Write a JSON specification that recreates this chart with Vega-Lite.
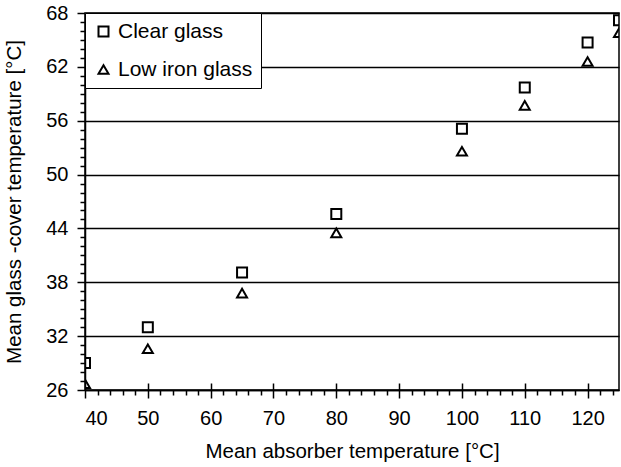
{
  "$schema": "https://vega.github.io/schema/vega-lite/v6.json",
  "width": 534,
  "height": 377,
  "autosize": "none",
  "padding": {"left": 85, "top": 13, "right": 2, "bottom": 77},
  "background": "white",
  "config": {
    "font": "Liberation Sans",
    "view": {"stroke": "black", "strokeWidth": 1.5},
    "axis": {
      "domainColor": "black",
      "domainWidth": 1.5,
      "tickColor": "black",
      "tickWidth": 1.5,
      "labelColor": "black",
      "titleColor": "black",
      "labelFont": "Liberation Sans",
      "titleFont": "Liberation Sans",
      "labelFontSize": 20,
      "titleFontSize": 20.5,
      "titleFontWeight": "normal",
      "gridColor": "black",
      "gridOpacity": 1,
      "gridWidth": 1.3
    },
    "legend": {
      "labelFont": "Liberation Sans",
      "labelColor": "black"
    }
  },
  "data": {
    "values": [
      {"absorber": 40, "cover": 29.0, "series": "Clear glass"},
      {"absorber": 50, "cover": 33.0, "series": "Clear glass"},
      {"absorber": 65, "cover": 39.1, "series": "Clear glass"},
      {"absorber": 80, "cover": 45.6, "series": "Clear glass"},
      {"absorber": 100, "cover": 55.1, "series": "Clear glass"},
      {"absorber": 110, "cover": 59.7, "series": "Clear glass"},
      {"absorber": 120, "cover": 64.7, "series": "Clear glass"},
      {"absorber": 125, "cover": 67.2, "series": "Clear glass"},
      {"absorber": 40, "cover": 26.7, "series": "Low iron glass"},
      {"absorber": 50, "cover": 30.6, "series": "Low iron glass"},
      {"absorber": 65, "cover": 36.8, "series": "Low iron glass"},
      {"absorber": 80, "cover": 43.5, "series": "Low iron glass"},
      {"absorber": 100, "cover": 52.6, "series": "Low iron glass"},
      {"absorber": 110, "cover": 57.7, "series": "Low iron glass"},
      {"absorber": 120, "cover": 62.6, "series": "Low iron glass"},
      {"absorber": 125, "cover": 65.8, "series": "Low iron glass"}
    ]
  },
  "layer": [
    {
      "mark": {"type": "point", "filled": false, "opacity": 0, "clip": true},
      "encoding": {
        "x": {
          "field": "absorber", "type": "quantitative",
          "scale": {"domain": [40, 125], "nice": false, "zero": false},
          "axis": {
            "orient": "bottom",
            "values": [42, 44, 46, 48, 52, 54, 56, 58, 62, 64, 66, 68, 72, 74, 76, 78, 82, 84, 86, 88, 92, 94, 96, 98, 102, 104, 106, 108, 112, 114, 116, 118, 122, 124],
            "labels": false, "grid": false, "domain": false, "tickSize": 5, "title": null
          }
        },
        "y": {
          "field": "cover", "type": "quantitative",
          "scale": {"domain": [26, 68], "nice": false, "zero": false},
          "axis": {
            "orient": "left",
            "values": [27, 28, 29, 30, 31, 33, 34, 35, 36, 37, 39, 40, 41, 42, 43, 45, 46, 47, 48, 49, 51, 52, 53, 54, 55, 57, 58, 59, 60, 61, 63, 64, 65, 66, 67],
            "labels": false, "grid": false, "domain": false, "tickSize": 5, "title": null
          }
        }
      }
    },
    {
      "mark": {"type": "point", "filled": false, "opacity": 0, "clip": true},
      "encoding": {
        "x": {
          "field": "absorber", "type": "quantitative",
          "scale": {"domain": [40, 125], "nice": false, "zero": false},
          "axis": {
            "orient": "bottom",
            "values": [50, 60, 70, 80, 90, 100, 110, 120],
            "labels": false, "grid": false, "domain": false, "tickSize": -7, "title": null
          }
        },
        "y": {
          "field": "cover", "type": "quantitative",
          "scale": {"domain": [26, 68], "nice": false, "zero": false},
          "axis": null
        }
      }
    },
    {
      "mark": {"type": "point", "filled": false, "strokeWidth": 2, "size": 100, "color": "black", "opacity": 1, "clip": true},
      "encoding": {
        "x": {
          "field": "absorber", "type": "quantitative",
          "scale": {"domain": [40, 125], "nice": false, "zero": false},
          "axis": {
            "orient": "bottom",
            "values": [40, 50, 60, 70, 80, 90, 100, 110, 120],
            "grid": false, "tickSize": 8, "labelPadding": 10,
            "title": "Mean absorber temperature [°C]", "titlePadding": 13
          }
        },
        "y": {
          "field": "cover", "type": "quantitative",
          "scale": {"domain": [26, 68], "nice": false, "zero": false},
          "axis": {
            "orient": "left",
            "values": [26, 32, 38, 44, 50, 56, 62, 68],
            "grid": true, "tickSize": 8, "labelPadding": 9,
            "title": "Mean glass -cover temperature [°C]", "titlePadding": 21
          }
        },
        "shape": {
          "field": "series", "type": "nominal",
          "scale": {"domain": ["Clear glass", "Low iron glass"], "range": ["square", "triangle-up"]},
          "legend": {
            "title": null,
            "orient": "top-left",
            "offset": 0,
            "strokeColor": "black",
            "fillColor": "white",
            "padding": 8,
            "labelFontSize": 21,
            "symbolSize": 100,
            "symbolStrokeWidth": 2,
            "symbolStrokeColor": "black",
            "symbolFillColor": "transparent",
            "rowPadding": 16,
            "labelOffset": 4
          }
        }
      }
    }
  ],
  "resolve": {"axis": {"x": "independent", "y": "independent"}}
}
